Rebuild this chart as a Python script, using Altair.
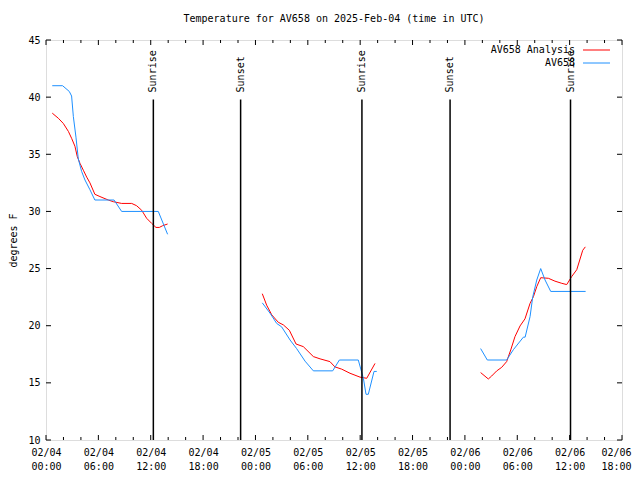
import altair as alt
import pandas as pd

FONT = "DejaVu Sans Mono"

chart_title = "Temperature for AV658 on 2025-Feb-04 (time in UTC)"
y_title = "degrees F"
series_names = ["AV658 Analysis", "AV658"]
series_colors = ["#ff0000", "#1e90ff"]

# ---- AV658 Analysis (red) ----
an_0204_times = ["00:43", "01:25", "01:59", "02:34", "02:56", "03:19", "03:35", "03:54", "04:17",
                 "04:40", "05:02", "05:36", "06:11", "07:08", "07:43", "08:40", "09:49", "10:23",
                 "10:58", "11:32", "12:07", "12:36", "12:59", "13:22", "13:56"]
an_0204_vals = [38.6, 38.15, 37.7, 37.0, 36.4, 35.7, 34.8, 34.2, 33.6,
                33.0, 32.5, 31.5, 31.3, 31.0, 30.85, 30.7, 30.7, 30.5,
                30.1, 29.4, 28.95, 28.6, 28.6, 28.75, 28.9]
an_0205_times = ["00:47", "01:17", "01:52", "02:37", "03:12", "03:53", "04:39", "05:29", "06:38",
                 "07:24", "08:32", "09:06", "09:53", "10:50", "11:59", "12:45", "13:42"]
an_0205_vals = [22.8, 21.8, 20.95, 20.3, 20.07, 19.6, 18.4, 18.17, 17.3,
                17.1, 16.86, 16.4, 16.2, 15.84, 15.5, 15.4, 16.7]
an_0206_times = ["01:48", "02:41", "03:04", "03:38", "04:13", "04:47", "05:15", "05:44", "06:19",
                 "06:53", "07:28", "07:51", "08:14", "08:41", "09:34", "10:19", "11:06", "11:40",
                 "12:14", "12:49", "13:30", "13:48"]
an_0206_vals = [15.9, 15.34, 15.6, 16.04, 16.36, 16.86, 17.88, 19.04, 19.98,
                20.6, 21.96, 22.54, 23.42, 24.2, 24.15, 23.9, 23.71, 23.6,
                24.3, 24.9, 26.6, 26.9]

# ---- AV658 observations (blue) ----
ob_0204_times = ["00:43", "01:54", "02:40", "02:56", "03:08", "03:26", "03:42", "04:05", "04:28",
                 "05:02", "05:36", "07:48", "08:40", "12:52", "13:56"]
ob_0204_vals = [41.0, 41.0, 40.5, 40.1, 38.3, 36.5, 34.6, 33.5, 32.75,
                31.9, 31.0, 31.0, 30.0, 30.0, 28.0]
ob_0205_times = ["00:47", "01:40", "02:26", "03:00", "03:58", "04:43", "05:41", "06:38", "08:51",
                 "09:37", "11:47", "12:22", "12:40", "12:56", "13:35", "13:54"]
ob_0205_vals = [22.0, 21.1, 20.2, 19.9, 18.75, 18.0, 16.9, 16.05, 16.05,
                17.0, 17.0, 15.4, 14.0, 14.0, 16.0, 16.0]
ob_0206_times = ["01:48", "02:34", "04:47", "05:33", "06:42", "06:54", "07:28", "07:46", "08:14",
                 "08:41", "09:11", "09:50", "13:50"]
ob_0206_vals = [18.0, 17.0, 17.0, 17.9, 19.0, 19.0, 20.8, 22.5, 24.0,
                25.0, 24.0, 23.0, 23.0]

# ---- Sunrise / sunset ----
sun_times = ["2025-02-04T12:18:00Z", "2025-02-04T22:18:00Z", "2025-02-05T12:12:00Z",
             "2025-02-05T22:18:00Z", "2025-02-06T12:06:00Z"]
sun_labels = ["Sunrise", "Sunset", "Sunrise", "Sunset", "Sunrise"]

y_ticks = [10, 15, 20, 25, 30, 35, 40, 45]

rows = []
segments = [
    (series_names[0], "04", an_0204_times, an_0204_vals),
    (series_names[0], "05", an_0205_times, an_0205_vals),
    (series_names[0], "06", an_0206_times, an_0206_vals),
    (series_names[1], "04", ob_0204_times, ob_0204_vals),
    (series_names[1], "05", ob_0205_times, ob_0205_vals),
    (series_names[1], "06", ob_0206_times, ob_0206_vals),
]
for name, day, times, vals in segments:
    for t, v in zip(times, vals):
        rows.append({"t": f"2025-02-{day}T{t}:00Z", "temp": v, "series": name, "seg": name + day})
df = pd.DataFrame(rows)

sun_df = pd.DataFrame({"t": sun_times, "label": sun_labels})

# axis tick positions (every 2 h minor, every 6 h major)
tick_minor = []
tick_major = []
for h in range(0, 67, 2):
    d, hh = divmod(h, 24)
    s = f"2025-02-{4 + d:02d}T{hh:02d}:00:00Z"
    (tick_major if h % 6 == 0 else tick_minor).append({"t": s})
ytick_df = pd.DataFrame({"v": y_ticks})

def dt(day, hour):
    return alt.DateTime(year=2025, month=2, date=day, hours=hour, utc=True)

x_values = [dt(4 + h // 24, h % 24) for h in range(0, 67, 6)]
xscale = alt.Scale(type="utc", domain=[dt(4, 0), dt(6, 18)])
yscale = alt.Scale(domain=[10, 45], nice=False, zero=False)

# last label (02/06 18:00) nudged left a little so it stays inside the page
last_label_offset = {"condition": {"test": "datum.value >= 1738864000000", "value": -6}, "value": 0}

x_enc = alt.X("t:T", scale=xscale,
              axis=alt.Axis(values=x_values, title=None, ticks=False, domain=False, grid=False,
                            labelExpr="[utcFormat(datum.value, '%m/%d'), utcFormat(datum.value, '%H:%M')]",
                            labelBaseline="top", labelLineHeight=14, labelPadding=7,
                            labelFont=FONT, labelFontSize=10, labelColor="black",
                            labelOverlap=False, labelFlush=False,
                            labelOffset=last_label_offset))
y_enc = alt.Y("temp:Q", scale=yscale,
              axis=alt.Axis(values=y_ticks, title=y_title, ticks=False, domain=False, grid=False,
                            labelPadding=6, labelFont=FONT, labelFontSize=10, labelColor="black",
                            titleFont=FONT, titleFontSize=10, titleFontWeight="normal",
                            titleColor="black", titleAngle=270, titleX=-33, titleY=200,
                            titleAlign="center", titleBaseline="middle"))

lines = alt.Chart(df).mark_line(strokeWidth=1).encode(
    x=x_enc, y=y_enc,
    color=alt.Color("series:N", scale=alt.Scale(domain=series_names, range=series_colors), legend=None),
    detail="seg:N",
)

sun_rules = alt.Chart(sun_df).mark_rule(color="black", strokeWidth=1.5).encode(
    x=alt.X("t:T", scale=xscale), y=alt.datum(10), y2=alt.datum(39.8))
sun_text = alt.Chart(sun_df).mark_text(angle=270, align="left", baseline="middle", dx=7,
                                       font=FONT, fontSize=10, color="black").encode(
    x=alt.X("t:T", scale=xscale), y=alt.datum(39.8), text="label:N")

def xticks(data, y0, y1):
    return alt.Chart(alt.Data(values=data)).mark_rule(color="black", strokeWidth=1).encode(
        x=alt.X("t:T", scale=xscale), y=alt.value(y0), y2=alt.value(y1))

def yticks(x0, x1):
    return alt.Chart(ytick_df).mark_rule(color="black", strokeWidth=1).encode(
        y=alt.Y("v:Q", scale=yscale), x=alt.value(x0), x2=alt.value(x1))

W, H = 576, 400
tick_layers = [
    xticks(tick_minor, H, H - 3), xticks(tick_major, H, H - 5),
    xticks(tick_minor, 0, 3), xticks(tick_major, 0, 5),
    yticks(0, 5), yticks(W, W - 5),
]

one = alt.Data(values=[{}])
legend_layers = []
for i, (name, col) in enumerate(zip(series_names, series_colors)):
    yy = 10 + 13 * i
    legend_layers.append(alt.Chart(one).mark_text(align="right", baseline="middle", font=FONT,
                                                  fontSize=10, color="black").encode(
        x=alt.value(529), y=alt.value(yy), text=alt.value(name)))
    legend_layers.append(alt.Chart(one).mark_rule(color=col, strokeWidth=1).encode(
        x=alt.value(537), x2=alt.value(564), y=alt.value(yy)))

chart = alt.layer(lines, sun_rules, sun_text, *tick_layers, *legend_layers).properties(
    width=W, height=H,
    title=alt.TitleParams(chart_title, font=FONT, fontSize=10, fontWeight="normal", color="black",
                          offset=11, anchor="middle"),
    autosize=alt.AutoSizeParams(type="none"),
    padding={"left": 38, "top": 32, "right": 10, "bottom": 32},
).configure_view(stroke="black", strokeWidth=1).configure(background="white")

chart.save("out.html", embed_options={"renderer": "svg", "actions": False})
